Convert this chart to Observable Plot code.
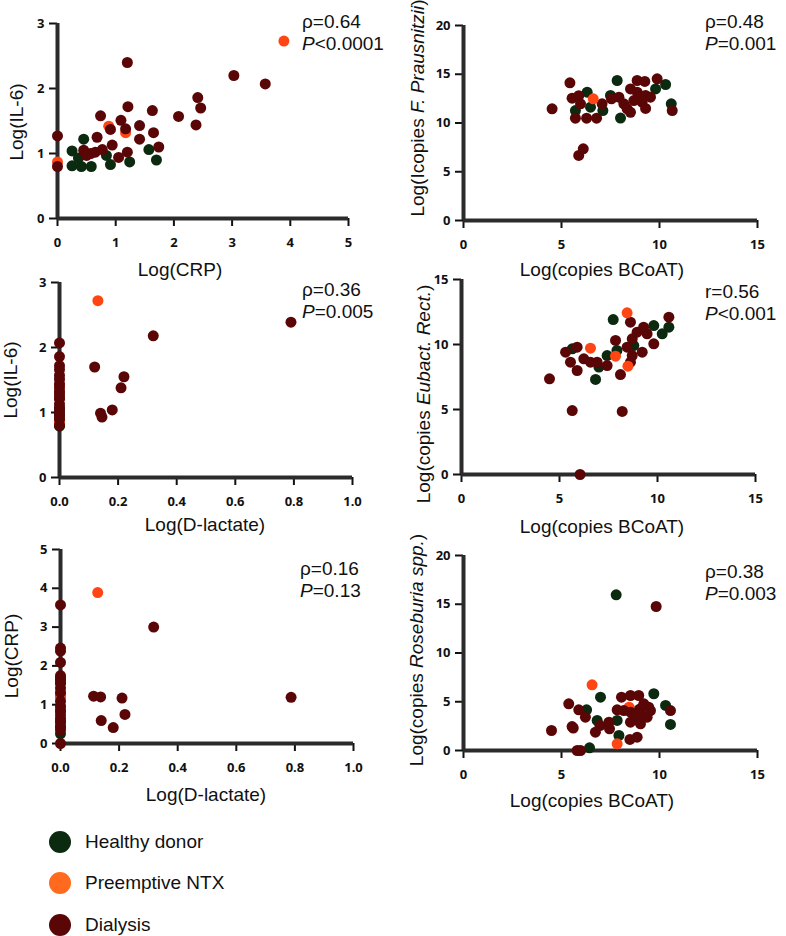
<!DOCTYPE html>
<html>
<head>
<meta charset="utf-8">
<script src="https://cdn.jsdelivr.net/npm/d3@7"></script>
<script src="https://cdn.jsdelivr.net/npm/@observablehq/plot@0.6"></script>
<style>
  body { margin: 0; background: #fff; }
  #root { position: relative; width: 786px; height: 936px; overflow: hidden;
          font-family: "Liberation Sans", Arial, sans-serif; color: #111; }
  .panel { position: absolute; }
  .panel svg { overflow: visible; }
  .ylab { position: absolute; white-space: nowrap; font-size: 19px;
          transform: translate(-50%, -50%) rotate(-90deg); }
  .xlab { position: absolute; white-space: nowrap; font-size: 19px;
          transform: translate(-50%, -50%); }
  .stat { position: absolute; font-size: 19px; line-height: 22px; white-space: nowrap; }
  .leg { position: absolute; left: 49px; display: flex; align-items: center; font-size: 19px; }
  .leg span.dot { width: 22px; height: 22px; border-radius: 50%; display: inline-block; margin-right: 14px; }
</style>
</head>
<body>
<div id="root"></div>
<script>
// ---------- groups / colours ----------
const groups = ["Healthy donor", "Preemptive NTX", "Dialysis"];
const plotColors = ["#0b2a10", "#ff4514", "#5a0606"];
const legendColors = ["#0b2a10", "#ff6a1e", "#5a0606"];
const axisColor = "#2b2b2b";

// ---------- Panel 1: Log(CRP) vs Log(IL-6) ----------
const p1Healthy = [[0.25,1.04],[0.45,1.22],[0.25,0.81],[0.41,0.80],[0.58,0.80],[0.91,0.83],[1.24,0.87],[0.84,0.97],[1.57,1.06],[1.70,0.90],[0.36,0.93]];
const p1Preemptive = [[3.89,2.73],[0.88,1.42],[1.17,1.32],[0,0.87]];
const p1Dialysis = [[0,1.27],[0,0.80],[1.20,2.40],[3.03,2.20],[3.57,2.07],[2.41,1.86],[2.46,1.70],[2.38,1.44],[2.08,1.57],[1.21,1.72],[1.63,1.66],[0.74,1.58],[1.09,1.51],[0.91,1.37],[1.17,1.38],[1.41,1.43],[1.65,1.32],[1.41,1.22],[0.68,1.25],[0.94,1.13],[1.74,1.10],[0.45,1.05],[0.57,1.00],[0.65,1.02],[0.77,1.06],[1.05,0.94],[1.20,1.02],[0.50,0.97]];

// ---------- Panel 2: Log(copies BCoAT) vs Log(copies F. Prausnitzii) ----------
const p2Healthy = [[7.84,14.36],[6.31,13.16],[5.71,11.28],[6.48,11.62],[7.11,11.28],[7.50,12.82],[8.01,10.51],[9.80,13.50],[10.31,13.95],[10.60,11.97]];
const p2Preemptive = [[6.62,12.48]];
const p2Dialysis = [[4.52,11.45],[5.43,14.12],[5.54,12.55],[5.71,10.50],[5.88,12.80],[5.97,11.97],[6.28,10.50],[6.79,10.50],[7.07,11.97],[7.55,12.48],[7.93,12.65],[8.18,11.97],[8.35,11.45],[8.52,11.10],[8.52,13.50],[8.86,14.36],[9.25,14.26],[9.88,14.53],[8.86,13.16],[9.03,12.65],[9.29,12.82],[9.54,12.65],[8.69,12.30],[9.11,12.14],[9.29,11.50],[10.65,11.28],[5.88,6.67],[6.11,7.35]];

// ---------- Panel 3: Log(D-lactate) vs Log(IL-6) ----------
const p3Healthy = [[0,1.22],[0,1.05],[0,0.97],[0,0.90],[0,0.86],[0,0.82],[0,0.79]];
const p3Preemptive = [[0.131,2.72],[0,0.85],[0,1.42],[0,1.31]];
const p3Dialysis = [[0.79,2.39],[0.32,2.18],[0.12,1.70],[0.22,1.55],[0.21,1.38],[0.18,1.04],[0.14,0.99],[0.145,0.93],
  [0,2.07],[0,1.86],[0,1.72],[0,1.66],[0,1.57],[0,1.51],[0,1.44],[0,1.38],[0,1.32],[0,1.27],[0,1.21],[0,1.13],[0,1.08],[0,1.02],[0,0.96],[0,0.90],[0,0.80]];

// ---------- Panel 4: Log(copies BCoAT) vs Log(copies Eubact. Rect.) ----------
const p4Healthy = [[7.74,11.92],[6.84,7.31],[9.81,11.46],[10.24,10.82],[10.58,11.33],[7.43,9.15],[5.65,9.67],[7.01,8.26],[8.79,9.92],[7.93,9.54]];
const p4Preemptive = [[8.45,12.44],[6.58,9.72],[7.86,9.10],[8.49,8.33]];
const p4Dialysis = [[4.49,7.36],[5.31,9.41],[5.90,9.79],[5.56,8.64],[5.90,8.00],[6.24,8.90],[6.58,8.64],[6.92,8.64],[7.43,8.38],[8.11,7.69],[7.86,10.31],[8.45,9.79],[8.71,10.44],[8.62,11.72],[8.96,10.95],[9.22,9.41],[9.47,10.82],[9.81,10.05],[10.58,12.10],[8.71,9.15],[8.62,8.64],[9.29,11.33],[5.65,4.92],[8.20,4.85],[6.05,0]];

// ---------- Panel 5: Log(D-lactate) vs Log(CRP) ----------
const p5Healthy = [[0,0.25],[0,0.42],[0,0.58],[0,0.84],[0,0.91],[0,1.24],[0,1.57],[0,1.70]];
const p5Preemptive = [[0.127,3.89],[0,1.20],[0,0.88]];
const p5Dialysis = [[0.318,3.00],[0.787,1.19],[0.113,1.22],[0.137,1.20],[0.21,1.17],[0.22,0.75],[0.139,0.59],[0.18,0.41],
  [0,3.57],[0,2.46],[0,2.38],[0,2.09],[0,1.75],[0,1.65],[0,1.55],[0,1.43],[0,1.32],[0,1.09],[0,0.97],[0,0.85],[0,0.74],[0,0.65],[0,0.55],[0,0.45],[0,0.35],[0,0.0]];

// ---------- Panel 6: Log(copies BCoAT) vs Log(copies Roseburia spp.) ----------
const p6Healthy = [[7.79,15.97],[6.99,5.47],[9.71,5.82],[6.28,4.17],[6.82,3.08],[7.84,3.08],[7.93,1.54],[6.43,0.28],[10.31,4.62],[10.56,2.67],[8.94,4.17]];
const p6Preemptive = [[6.56,6.74],[7.84,0.69],[8.45,4.44]];
const p6Dialysis = [[9.83,14.77],[5.37,4.79],[4.49,2.05],[5.54,2.46],[5.60,2.30],[5.88,4.17],[6.22,3.42],[6.73,1.88],[6.96,2.56],[7.42,2.91],[7.45,2.22],[5.80,0],[5.97,0],[8.06,5.47],[8.52,5.64],[8.94,5.64],[7.84,4.17],[8.18,4.10],[8.52,3.93],[8.78,3.76],[9.03,4.27],[9.20,4.79],[9.45,4.44],[9.37,3.42],[8.94,3.08],[8.52,2.91],[9.03,2.74],[9.20,3.42],[9.54,4.10],[10.56,4.10],[8.49,1.13],[8.86,1.37]];

// ---------- tick values ----------
const ticksCRP = [0,1,2,3,4,5];
const ticksIL6 = [0,1,2,3];
const ticksBCoAT = [0,5,10,15];
const ticksFP = [0,5,10,15,20];
const ticksDlac = [0,0.2,0.4,0.6,0.8,1.0];
const ticksEub = [0,5,10,15];
const ticksCRPy = [0,1,2,3,4,5];
const ticksRos = [0,5,10,15,20];

// ---------- texts ----------
const stats = [
  ["ρ=0.64", "<i>P</i>&lt;0.0001"], ["ρ=0.48", "<i>P</i>=0.001"], ["ρ=0.36", "<i>P</i>=0.005"],
  ["r=0.56", "<i>P</i>&lt;0.001"], ["ρ=0.16", "<i>P</i>=0.13"], ["ρ=0.38", "<i>P</i>=0.003"]
];
const xTitles = ["Log(CRP)", "Log(copies BCoAT)", "Log(D-lactate)", "Log(copies BCoAT)", "Log(D-lactate)", "Log(copies BCoAT)"];
const yTitles = ["Log(IL-6)", "Log(Icopies <i>F. Prausnitzii</i>)", "Log(IL-6)", "Log(copies <i>Eubact. Rect.</i>)", "Log(CRP)", "Log(copies <i>Roseburia spp.</i>)"];

// ---------- layout ----------
const panels = [
  {left:0,   top:0,   h:265, m:[23,45,47,57], xd:[0,5],  yd:[0,3],  xt:ticksCRP,   yt:ticksIL6, xf:d3.format("d"),
   data:[p1Healthy,p1Preemptive,p1Dialysis], order:[0,1,2], stat:[302,11], xlab:[180,270], ylab:[17,122]},
  {left:393, top:0,   h:265, m:[25,29,45,70], xd:[0,15], yd:[0,20], xt:ticksBCoAT, yt:ticksFP, xf:d3.format("d"),
   data:[p2Healthy,p2Preemptive,p2Dialysis], order:[0,2,1], stat:[705,11], xlab:[602,270], ylab:[418,108]},
  {left:0,   top:265, h:265, m:[17,41,53,59], xd:[0,1],  yd:[0,3],  xt:ticksDlac,  yt:ticksIL6, xf:d3.format(".1f"),
   data:[p3Healthy,p3Preemptive,p3Dialysis], order:[0,1,2], stat:[302,279], xlab:[205,525], ylab:[11,380]},
  {left:393, top:265, h:265, m:[14,31,56,68], xd:[0,15], yd:[0,15], xt:ticksBCoAT, yt:ticksEub, xf:d3.format("d"),
   data:[p4Healthy,p4Preemptive,p4Dialysis], order:[0,2,1], stat:[705,281], xlab:[602,527], ylab:[424,394]},
  {left:0,   top:530, h:260, m:[19,40,47,60], xd:[0,1],  yd:[0,5],  xt:ticksDlac,  yt:ticksCRPy, xf:d3.format(".1f"),
   data:[p5Healthy,p5Preemptive,p5Dialysis], order:[0,1,2], stat:[300,558], xlab:[206,795], ylab:[12,656]},
  {left:393, top:530, h:260, m:[25,29,40,70], xd:[0,15], yd:[0,20], xt:ticksBCoAT, yt:ticksRos, xf:d3.format("d"),
   data:[p6Healthy,p6Preemptive,p6Dialysis], order:[0,1,2], stat:[705,561], xlab:[592,801], ylab:[417,650]}
];

const root = document.getElementById("root");

panels.forEach((p, i) => {
  const dotMarks = p.order.map(g =>
    Plot.dot(p.data[g], {x: d => d[0], y: d => d[1], r: 5.5, fill: plotColors[g], stroke: "none"}));
  const chart = Plot.plot({
    width: 393, height: p.h,
    marginTop: p.m[0], marginRight: p.m[1], marginBottom: p.m[2], marginLeft: p.m[3],
    x: {domain: p.xd}, y: {domain: p.yd},
    marks: [
      Plot.axisX({ticks: p.xt, tickFormat: p.xf, tickSize: 8, tickPadding: 11, strokeWidth: 2,
                  label: null, fontSize: 13, fontWeight: "bold", fill: "#111"}),
      Plot.axisY({ticks: p.yt, tickFormat: d3.format("d"), tickSize: 8, tickPadding: 5, strokeWidth: 2,
                  label: null, fontSize: 13, fontWeight: "bold", fill: "#111"}),
      Plot.ruleX([p.xd[0]], {stroke: axisColor, strokeWidth: 4}),
      Plot.ruleY([p.yd[0]], {stroke: axisColor, strokeWidth: 4}),
      ...dotMarks
    ]
  });
  const wrap = document.createElement("div");
  wrap.className = "panel";
  wrap.style.left = p.left + "px";
  wrap.style.top = p.top + "px";
  wrap.appendChild(chart);
  root.appendChild(wrap);

  const st = document.createElement("div");
  st.className = "stat";
  st.style.left = p.stat[0] + "px";
  st.style.top = p.stat[1] + "px";
  st.innerHTML = stats[i][0] + "<br>" + stats[i][1];
  root.appendChild(st);

  const xl = document.createElement("div");
  xl.className = "xlab";
  xl.style.left = p.xlab[0] + "px";
  xl.style.top = p.xlab[1] + "px";
  xl.textContent = xTitles[i];
  root.appendChild(xl);

  const yl = document.createElement("div");
  yl.className = "ylab";
  yl.style.left = p.ylab[0] + "px";
  yl.style.top = p.ylab[1] + "px";
  yl.innerHTML = yTitles[i];
  root.appendChild(yl);
});

// ---------- legend ----------
const legendY = [842, 883, 925];
groups.forEach((g, i) => {
  const row = document.createElement("div");
  row.className = "leg";
  row.style.top = (legendY[i] - 11) + "px";
  row.style.height = "22px";
  row.innerHTML = `<span class="dot" style="background:${legendColors[i]}"></span><span>${g}</span>`;
  root.appendChild(row);
});
</script>
</body>
</html>
